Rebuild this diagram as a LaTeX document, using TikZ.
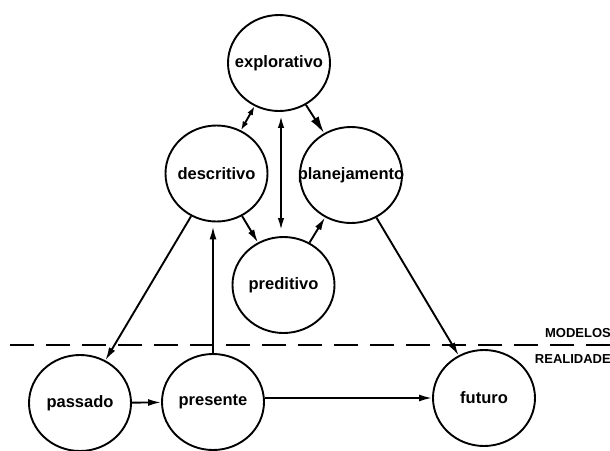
\documentclass[tikz,border=0pt]{standalone}
\usepackage{fontspec}
\setmainfont{Liberation Sans}
\usetikzlibrary{shapes.geometric,arrows.meta}
\newcommand\lblbox[1]{\makebox[0pt]{#1}}
\tikzset{
  circ/.style={draw, ellipse, line width=1.9pt, minimum width=102pt, minimum height=96pt,
    inner sep=0pt, font=\fontsize{16.5}{18}\selectfont\bfseries},
  arr/.style={line width=1.9pt, -{Latex[length=13pt,width=7pt]}},
  bigarr/.style={line width=1.9pt, -{Latex[length=17pt,width=9pt]}},
  dbl/.style={line width=1.9pt, {Latex[length=12pt,width=6.5pt]}-{Latex[length=12pt,width=6.5pt]}},
  sdbl/.style={line width=1.9pt, {Latex[length=9pt,width=6pt]}-{Latex[length=9pt,width=6pt]}},
  sep/.style={line width=1.9pt, dash pattern=on 24pt off 12pt},
  side/.style={font=\fontsize{13}{15}\selectfont\bfseries, inner sep=0pt, anchor=base east},
}
\begin{document}
\begin{tikzpicture}[x=1pt,y=-1pt]
\useasboundingbox (0,0) rectangle (610,450);
\node[circ] (explorativo) at (279,63) {\lblbox{explorativo}};
\node[circ] (descritivo) at (216.5,173.5) {\lblbox{descritivo}};
\node[circ] (planejamento) at (351,175) {\lblbox{planejamento}};
\node[circ] (preditivo) at (283.5,285) {\lblbox{preditivo}};
\node[circ] (passado) at (80,403) {\lblbox{passado}};
\node[circ] (presente) at (213,402) {\lblbox{presente}};
\node[circ] (futuro) at (484,398) {\lblbox{futuro}};

\coordinate (dl) at (10,345);
\coordinate (dr) at (610,345);
\draw[sep] (dl) -- (dr);
\node[side] (modelos) at (611,337) {MODELOS};
\node[side] (realidade) at (611,363) {REALIDADE};

\draw[sdbl] (explorativo) -- (descritivo);
\draw[bigarr] (explorativo) -- (planejamento);
\draw[dbl, shorten <=4pt, shorten >=6pt] ([xshift=2pt]explorativo.south) -- ([xshift=-2.5pt]preditivo.north);
\draw[arr] (descritivo) -- (preditivo);
\draw[arr] (preditivo) -- (planejamento);
\draw[arr] (descritivo) -- (passado);
\draw[arr, shorten >=4pt] (presente.north) -- (presente.north |- descritivo.south);
\draw[arr] (passado) -- (presente);
\draw[arr] (presente.east |- futuro.west) -- (futuro.west);
\draw[arr] (planejamento) -- (futuro);
\end{tikzpicture}
\end{document}
